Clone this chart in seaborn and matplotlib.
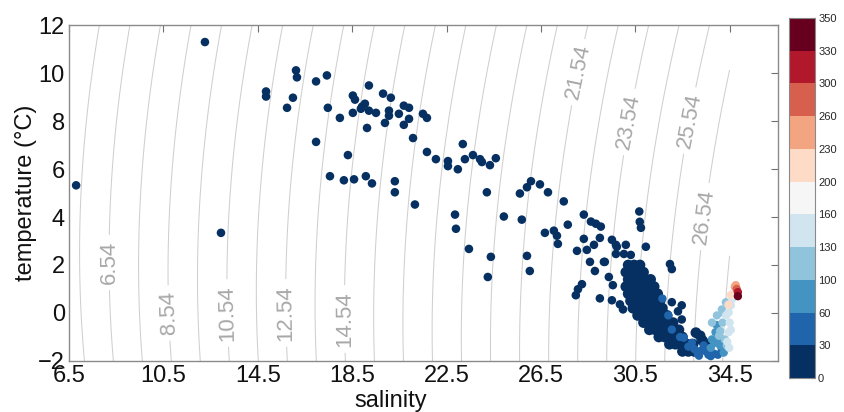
import numpy as np
import pandas as pd
import matplotlib
matplotlib.use("Agg")
import matplotlib.pyplot as plt
from matplotlib.colors import ListedColormap, BoundaryNorm
import seaborn as sns

sns.set_style("white")
plt.rcParams['font.family'] = ['Liberation Sans', 'DejaVu Sans']

## colour bar classes (depth, m)
depth_bounds = [0, 30, 60, 100, 130, 160, 200, 230, 260, 300, 330, 350]

## isopycnals (sigma-t)
sigma_levels = [4.54, 5.54, 6.54, 7.54, 8.54, 9.54, 10.54, 11.54, 12.54, 13.54,
                14.54, 15.54, 16.54, 17.54, 18.54, 19.54, 20.54, 21.54, 22.54,
                23.54, 24.54, 25.54, 26.54, 27.54]
label_levels = [6.54, 8.54, 10.54, 12.54, 14.54, 21.54, 23.54, 25.54, 26.54]

## upper-layer stations (scattered, depth < 30 m)
upper_sal = [6.80, 12.26, 12.94, 14.85, 14.85, 15.74, 15.99, 16.12, 16.16, 16.97,
             17.43, 17.47, 16.97, 17.56, 17.98, 18.15, 18.32, 18.53, 18.62, 18.53,
             18.58, 18.92, 19.04, 18.87, 19.21, 19.13, 19.08, 19.34, 19.21, 19.51,
             19.81, 20.14, 20.06, 20.06, 19.89, 20.31, 20.31, 20.48, 20.69, 20.91,
             20.69, 20.91, 21.08, 21.16, 21.50, 21.67, 21.67, 22.05, 22.56, 22.56,
             22.98, 23.19, 23.28, 23.62, 23.92, 24.00, 24.34, 24.59, 24.21, 22.86,
             22.90, 23.45, 24.38, 24.25, 24.93, 25.69, 25.61, 25.91, 26.08, 26.46,
             26.80, 25.91, 26.03, 26.67, 27.05, 27.18, 27.22, 27.47, 27.64, 28.32,
             28.62, 28.83, 29.04, 28.32, 29.00, 28.75, 28.45, 28.03, 28.58, 28.79,
             29.21, 28.24, 28.07, 27.98, 29.00, 29.51, 29.68, 30.10, 29.68, 30.02,
             30.31, 29.38, 29.55, 30.67, 30.69, 30.74, 30.95, 29.17, 29.72, 31.97,
             32.05, 32.05, 32.47, 32.31, 32.47, 29.51, 29.85, 29.98]
upper_temp = [5.32, 11.29, 3.34, 9.23, 9.02, 8.55, 8.97, 10.11, 9.82, 9.65,
              9.90, 8.55, 7.13, 5.70, 8.13, 5.53, 6.58, 9.06, 8.89, 8.34,
              5.57, 8.60, 8.72, 8.51, 9.48, 7.71, 5.70, 5.40, 8.43, 8.34,
              9.14, 8.97, 8.43, 8.22, 7.92, 5.49, 5.03, 8.30, 8.64, 8.55,
              7.84, 8.09, 7.29, 4.52, 8.30, 8.13, 6.71, 6.41, 6.33, 6.12,
              5.99, 7.04, 6.41, 6.58, 6.41, 6.29, 6.16, 6.45, 5.03, 4.10,
              3.51, 2.67, 2.34, 1.50, 4.02, 3.89, 4.98, 5.24, 5.49, 5.36,
              5.03, 2.38, 1.75, 3.34, 3.43, 3.22, 2.88, 4.65, 3.68, 4.10,
              3.81, 3.72, 3.60, 3.09, 3.13, 2.84, 2.63, 2.59, 2.13, 1.75,
              2.13, 1.20, 0.99, 0.74, 0.61, 3.05, 2.84, 2.84, 2.46, 2.46,
              2.42, 1.50, 1.16, 4.23, 3.80, 3.55, 2.76, 2.13, 2.76, 2.04,
              1.83, 0.45, 0.32, 0.07, -0.27, 0.53, 0.36, 0.15]
upper_depth = [5, 8, 6, 4, 5, 7, 6, 3, 4, 5,
               4, 6, 9, 12, 6, 11, 8, 5, 5, 6,
               12, 6, 5, 6, 4, 8, 12, 13, 6, 7,
               5, 5, 7, 7, 8, 12, 14, 6, 5, 6,
               8, 7, 9, 15, 6, 7, 10, 10, 11, 11,
               11, 9, 10, 10, 10, 11, 11, 10, 13, 15,
               16, 18, 19, 21, 15, 15, 13, 12, 12, 12,
               13, 19, 21, 17, 17, 17, 18, 14, 16, 15,
               16, 16, 16, 17, 17, 18, 18, 18, 19, 20,
               19, 22, 22, 23, 23, 17, 18, 18, 19, 19,
               19, 21, 22, 15, 16, 16, 18, 19, 18, 20,
               20, 24, 24, 25, 25, 24, 24, 25]

## dense core of the surface water mass (depth < 30 m)
core_sal = [30.20, 30.45, 30.70,
            30.10, 30.35, 30.60, 30.85,
            30.20, 30.45, 30.70, 30.95, 31.15,
            30.10, 30.35, 30.60, 30.85, 31.10, 31.30,
            30.20, 30.45, 30.70, 30.95, 31.20, 31.45,
            30.30, 30.55, 30.80, 31.05, 31.30, 31.55,
            30.40, 30.65, 30.90, 31.15, 31.40, 31.65,
            30.60, 30.85, 31.10, 31.35, 31.60, 31.85,
            30.85, 31.10, 31.35, 31.60, 31.85, 32.10,
            31.10, 31.35, 31.60, 31.85, 32.10, 32.35,
            31.50, 31.75, 32.00, 32.25, 32.50,
            31.95, 32.20, 32.45, 32.70, 32.95,
            32.50, 32.75, 33.00,
            33.07, 33.25, 33.35, 33.55, 33.55]
core_temp = [2.0, 2.0, 2.0,
             1.7, 1.7, 1.7, 1.7,
             1.4, 1.4, 1.4, 1.4, 1.4,
             1.1, 1.1, 1.1, 1.1, 1.1, 1.1,
             0.8, 0.8, 0.8, 0.8, 0.8, 0.8,
             0.5, 0.5, 0.5, 0.5, 0.5, 0.5,
             0.2, 0.2, 0.2, 0.2, 0.2, 0.2,
             -0.1, -0.1, -0.1, -0.1, -0.1, -0.1,
             -0.4, -0.4, -0.4, -0.4, -0.4, -0.4,
             -0.7, -0.7, -0.7, -0.7, -0.7, -0.7,
             -1.0, -1.0, -1.0, -1.0, -1.0,
             -1.3, -1.3, -1.3, -1.3, -1.3,
             -1.6, -1.6, -1.6,
             -0.82, -0.95, -1.15, -1.30, -1.55]
core_depth = [20, 20, 21,
              21, 21, 22, 22,
              22, 22, 23, 23, 23,
              22, 23, 23, 24, 24, 24,
              23, 24, 24, 25, 25, 25,
              24, 25, 25, 26, 26, 26,
              25, 26, 26, 27, 27, 27,
              26, 27, 27, 27, 28, 28,
              27, 27, 28, 28, 28, 28,
              27, 28, 28, 28, 29, 29,
              28, 28, 29, 29, 29,
              28, 29, 29, 29, 29,
              29, 29, 29,
              28, 28, 29, 29, 29]

## deeper water (30-350 m)
deep_sal = [31.65, 31.90, 32.05, 32.40, 32.56, 32.90, 33.00, 33.28, 33.50, 33.60,
            34.00, 34.17, 33.20, 33.85, 33.40, 32.75, 33.15, 33.70,
            33.75, 33.70, 34.10, 33.90, 33.95, 34.25, 33.85, 34.05,
            33.75, 33.96, 34.17, 34.34, 34.10, 34.30, 34.38, 34.20, 34.05, 34.25,
            34.46, 34.50, 34.55, 34.60, 34.46, 34.40, 34.35, 34.55, 34.48,
            34.62, 34.65,
            34.45, 34.55,
            34.76, 34.72, 34.80, 34.85, 34.85]
deep_temp = [0.60, -0.10, -0.69, -1.00, -1.03, -1.24, -1.50, -1.57, -1.60, -1.74,
             -1.74, -1.53, -1.78, -1.70, -1.35, -1.40, -1.70, -1.80,
             -1.10, -1.45, -1.36, -0.80, -0.50, -1.65, -1.25, -1.05,
             -0.40, -0.10, 0.15, 0.45, -0.75, -1.10, -1.36, -0.40, -0.95, 0.00,
             0.03, -0.40, 0.32, 0.57, -0.80, -1.20, -0.10, -0.70, -1.45,
             0.74, 0.87,
             0.35, 0.75,
             1.16, 1.10, 1.00, 0.87, 0.70]
deep_depth = [40, 42, 45, 48, 45, 50, 55, 52, 40, 55,
              58, 57, 50, 55, 45, 40, 50, 45,
              80, 75, 85, 90, 95, 70, 85, 90,
              110, 115, 120, 125, 105, 110, 105, 115, 110, 120,
              140, 145, 150, 155, 140, 135, 140, 145, 135,
              175, 185,
              215, 220,
              245, 250, 280, 315, 340]


def sigma_t(s, t):
    # UNESCO 1980 one-atmosphere density, minus 1000
    rho_w = (999.842594 + 6.793952e-2 * t - 9.095290e-3 * t**2 + 1.001685e-4 * t**3
             - 1.120083e-6 * t**4 + 6.536332e-9 * t**5)
    a = 8.24493e-1 - 4.0899e-3 * t + 7.6438e-5 * t**2 - 8.2467e-7 * t**3 + 5.3875e-9 * t**4
    b = -5.72466e-3 + 1.0227e-4 * t - 1.6546e-6 * t**2
    c = 4.8314e-4
    return rho_w + a * s + b * s**1.5 + c * s**2 - 1000.0


upper = pd.DataFrame({'salinity': upper_sal, 'temperature': upper_temp, 'depth': upper_depth})
core = pd.DataFrame({'salinity': core_sal, 'temperature': core_temp, 'depth': core_depth})
deep = pd.DataFrame({'salinity': deep_sal, 'temperature': deep_temp, 'depth': deep_depth})

cmap = ListedColormap(matplotlib.colormaps['RdBu_r'](np.linspace(0, 1, 11)))
norm = BoundaryNorm(depth_bounds, cmap.N)

fig = plt.figure(figsize=(8.44, 4.12), dpi=100)
ax = fig.add_axes([0.0818, 0.1238, 0.840, 0.8155])
cax = fig.add_axes([0.935, 0.0825, 0.031, 0.874])

# isopycnal background
sg, tg = np.meshgrid(np.linspace(6.5, 34.5, 300), np.linspace(-2, 12, 300))
sig = sigma_t(sg, tg)
plain_levels = [lv for lv in sigma_levels if lv not in label_levels]
ax.contour(sg, tg, sig, levels=plain_levels, colors='#cfcfcf', linewidths=0.75, zorder=0)
cs = ax.contour(sg, tg, sig, levels=label_levels, colors='#cfcfcf', linewidths=0.75, zorder=0)
spots = [(8.15, 2.1), (10.66, 0.0), (13.12, 0.0), (15.58, 0.0), (18.1, -0.25),
         (28.25, 10.0), (30.3, 7.95), (32.9, 8.0), (33.56, 4.0)]
txts = ax.clabel(cs, inline=True, inline_spacing=6, fmt='%.2f',
                 fontsize=16, colors='#a8a8a8', manual=spots)
for t in txts:
    if float(t.get_text()) < 20:
        t.set_rotation(t.get_rotation() - 180)

sns.scatterplot(data=upper, x='salinity', y='temperature', hue='depth',
                palette=cmap, hue_norm=norm, s=38, linewidth=0, legend=False,
                ax=ax, zorder=3)
sns.scatterplot(data=core, x='salinity', y='temperature', hue='depth',
                palette=cmap, hue_norm=norm, s=60, linewidth=0, legend=False,
                ax=ax, zorder=3)
sns.scatterplot(data=deep, x='salinity', y='temperature', hue='depth',
                palette=cmap, hue_norm=norm, s=36, linewidth=0, legend=False,
                ax=ax, zorder=4)

ax.set_xlim(6.5, 36.55)
ax.set_ylim(-2, 12)
ax.set_xticks([6.5, 10.5, 14.5, 18.5, 22.5, 26.5, 30.5, 34.5])
ax.set_xticklabels(['6.5', '10.5', '14.5', '18.5', '22.5', '26.5', '30.5', '34.5'])
ax.set_yticks([-2, 0, 2, 4, 6, 8, 10, 12])
ax.tick_params(direction='in', length=5, width=0.8, color='#707070', top=True,
               right=True, labelsize=17, pad=3, labelcolor='#111111')
for sp in ax.spines.values():
    sp.set_color('#8a8a8a')
    sp.set_linewidth(1.0)
ax.set_xlabel('salinity', fontsize=17, color='#111111')
ax.set_ylabel('temperature (°C)', fontsize=17, color='#111111')
ax.xaxis.set_label_coords(0.454, -0.085)
ax.yaxis.set_label_coords(-0.045, 0.5)

sm = plt.cm.ScalarMappable(norm=norm, cmap=cmap)
cb = fig.colorbar(sm, cax=cax, boundaries=depth_bounds, ticks=depth_bounds,
                  spacing='uniform')
cb.ax.tick_params(labelsize=8, direction='in', length=3, color='#555555', pad=2,
                  left=True)
cb.outline.set_edgecolor('#8a8a8a')

fig.savefig('out.png', dpi=100)
